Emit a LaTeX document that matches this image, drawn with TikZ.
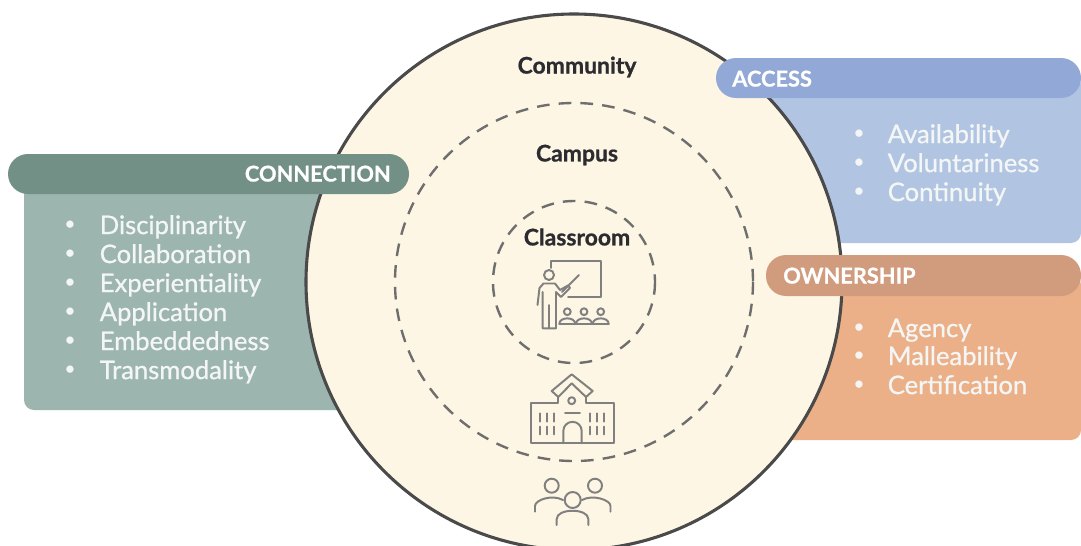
\documentclass[tikz,border=0pt]{standalone}
\usepackage{fontspec}
\setmainfont{Lato}
\newfontfamily\itemfont{Lato}[FakeBold=0.8]
\newfontfamily\headfont{Lato}[BoldFeatures={FakeBold=0.8}]
\usepackage{tikz}
\usetikzlibrary{calc}

\definecolor{circfill}{HTML}{FEF6E4}
\definecolor{circline}{HTML}{4A4A4A}
\definecolor{dashline}{HTML}{6E6E6E}
\definecolor{iconline}{HTML}{808080}
\definecolor{darktext}{HTML}{2B2B30}
\definecolor{itemtext}{HTML}{F4F6F5}
\definecolor{acchead}{HTML}{92A8D6}
\definecolor{accbody}{HTML}{B1C5E3}
\definecolor{ownhead}{HTML}{D19C7D}
\definecolor{ownbody}{HTML}{EBB088}
\definecolor{conhead}{HTML}{729085}
\definecolor{conbody}{HTML}{9DB5AF}

\tikzset{
  headbar/.style={rounded corners=0.5cm},
  bodybox/.style={rounded corners=0.25cm},
  ringlabel/.style={inner sep=0pt, text=darktext, font=\headfont\fontsize{16.3}{18}\selectfont\bfseries},
  headlabel/.style={inner sep=0pt, text=white, font=\headfont\fontsize{15.5}{18}\selectfont\bfseries},
  itemlabel/.style={inner sep=0pt, anchor=mid west, text=itemtext, font=\itemfont\fontsize{18.2}{20}\selectfont},
  bulletdot/.style={inner sep=0pt, anchor=center, text=itemtext, font=\fontsize{14}{16}\selectfont},
  icon/.style={draw=iconline, line width=1.4pt, line cap=round, line join=round},
  dashring/.style={draw=dashline, line width=1.7pt, dash pattern=on 9pt off 6.5pt},
}

\begin{document}
\begin{tikzpicture}[x=0.025cm,y=-0.025cm]

\clip (0,0) rectangle (1081,546);
\fill[white] (0,0) rectangle (1081,546);

% boxes behind the circle
\fill[accbody,bodybox] (700,75) rectangle (1081,243);
\fill[ownbody,bodybox] (740,275) rectangle (1081,440);
\fill[conbody,bodybox] (24,175) rectangle (420,410);

% rings
\coordinate (O) at (574,282);
\draw[circline,fill=circfill,line width=2.2pt] (O) circle[radius=268];
\draw[dashring] (O) circle[radius=179];
\draw[dashring] (O) circle[radius=81];

% header bars sit on top
\fill[acchead,headbar] (716,58) rectangle (1081,98);
\fill[ownhead,headbar] (766,255) rectangle (1081,296);
\fill[conhead,headbar] (8,154) rectangle (409,194);

\node[ringlabel] (community) at (577,67) {Community};
\node[ringlabel] (campus) at (577,155) {Campus};
\node[ringlabel] (classroom) at (577,237) {Classroom};

\node[headlabel,anchor=mid west] (access) at (732,83) {ACCESS};
\node[headlabel,anchor=mid west] (ownership) at (783,280) {OWNERSHIP};
\node[headlabel,anchor=mid east] (connection) at (391,178) {CONNECTION};

% lists
\foreach \name/\ypos [count=\i] in {Disciplinarity/230.5,Collaboration/259.5,Experientiality/288.5,Application/317.5,Embeddedness/346.5,Transmodality/375.5}{
  \node[bulletdot] (conbullet\i) at (70,\ypos-4.5) {•};
  \node[itemlabel] (conitem\i) at (99.5,\ypos) {\name};
}
\foreach \name/\ypos [count=\i] in {Availability/139.5,Voluntariness/168.5,Continuity/197.5}{
  \node[bulletdot] (accbullet\i) at (859,\ypos-4.5) {•};
  \node[itemlabel] (accitem\i) at (887.5,\ypos) {\name};
}
\foreach \name/\ypos [count=\i] in {Agency/333.5,Malleability/361.5,Certification/390.5}{
  \node[bulletdot] (ownbullet\i) at (859,\ypos-4.5) {•};
  \node[itemlabel] (ownitem\i) at (887.5,\ypos) {\name};
}

% teacher
\draw[icon] (550.7,268) -- (550.7,261) -- (600.7,261) -- (600.7,296.7) -- (568,296.7);
\draw[icon] (579,275) -- (562,292);
\draw[icon] (549,275) circle[radius=5];
\draw[icon] (537.5,305) -- (539.5,288) -- (543.5,283.5) -- (555,283.5) -- (560,290) -- (568,285.5) -- (570,288) -- (561,297) -- (556,292) -- (556,328.3) -- (542.7,328.3) -- (542.7,292);
\draw[icon] (549,305) -- (549,328.3);
\foreach \xpos in {567.3,584,600.7}{
  \draw[icon] (\xpos,311.7) circle[radius=3.4];
  \draw[icon] (\xpos-8,324) .. controls (\xpos-8,316.5) and (\xpos+8,316.5) .. (\xpos+8,324) -- cycle;
}

% school
\draw[icon] (558.3,397) -- (558.3,403.3) -- (531,403.3) -- (531,443.3) -- (614,443.3) -- (614,403.3) -- (586,403.3) -- (586,397);
\draw[icon] (558.3,397) -- (571.7,383.3) -- (586,397) -- (592.7,391) -- (571.7,374.3) -- (551.7,391) -- cycle;
\draw[icon] (571.7,400.7) circle[radius=3.5];
\draw[icon] (565,413.3) -- (580,413.3);
\draw[icon] (563.3,443.3) -- (563.3,431) arc (180:360:9.2) -- (581.7,443.3);
\foreach \xpos in {540,546.7,554,590,597.3,604.3}{
  \draw[icon] (\xpos,413.3) -- (\xpos,421.7);
  \draw[icon] (\xpos,426.7) -- (\xpos,434.3);
}

% people
\draw[icon] (551.7,485.7) circle[radius=7];
\draw[icon] (595,485.7) circle[radius=7];
\draw[icon] (572.7,500) circle[radius=8];
\draw[icon] (535,511.7) -- (535,506) .. controls (535,500) and (552,494) .. (563,500);
\draw[icon] (610.5,511.7) -- (610.5,506) .. controls (610.5,500) and (593,494) .. (582,500);
\draw[icon] (556.7,525) -- (556.7,519) .. controls (556.7,508) and (588.3,508) .. (588.3,519) -- (588.3,525);

\end{tikzpicture}
\end{document}
